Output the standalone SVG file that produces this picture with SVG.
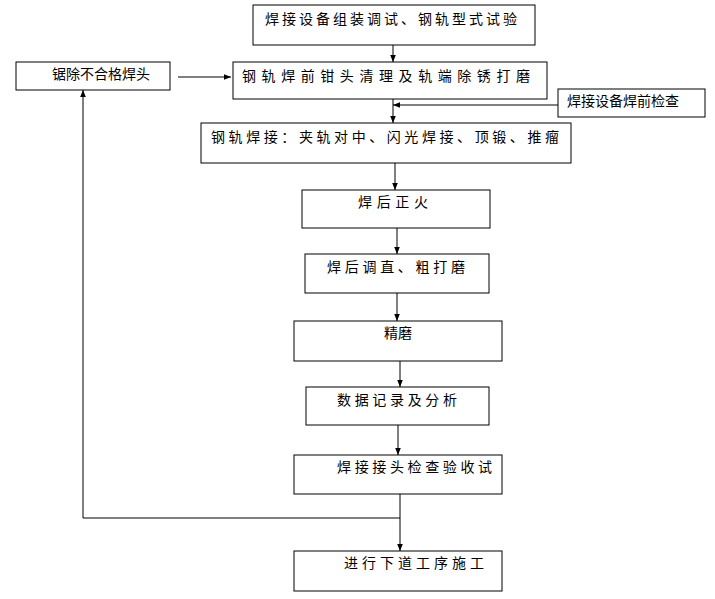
<svg xmlns="http://www.w3.org/2000/svg" width="715" height="599" viewBox="0 0 715 599">
<defs>
<style>
.b{fill:#fff;stroke:#000;stroke-width:1}
.t{font-family:"Noto Sans CJK SC","Liberation Sans",sans-serif;font-size:14px;fill:#000}
.c line,.c polyline{stroke:#000;stroke-width:1;fill:none}
</style>
<marker id="a" viewBox="0 0 10 10" refX="10" refY="5" markerWidth="7" markerHeight="7" orient="auto"><path d="M0,1 L10,5 L0,9 z" fill="#000"/></marker>
</defs>
<rect width="715" height="599" fill="#fff"/>
<g id="n1"><rect class="b" x="253" y="5" width="282" height="40"/><text class="t" x="265" y="24" textLength="252">焊接设备组装调试、钢轨型式试验</text></g>
<g id="n0"><rect class="b" x="16" y="62" width="154" height="28"/><text class="t" x="52" y="79">锯除不合格焊头</text></g>
<g id="n2"><rect class="b" x="233" y="62" width="314" height="37"/><text class="t" x="242" y="81" textLength="288">钢轨焊前钳头清理及轨端除锈打磨</text></g>
<g id="nr"><rect class="b" x="558" y="89" width="147" height="28"/><text class="t" x="567" y="106">焊接设备焊前检查</text></g>
<g id="n3"><rect class="b" x="201" y="123" width="370" height="40"/><text class="t" x="211" y="142" textLength="348">钢轨焊接：夹轨对中、闪光焊接、顶锻、推瘤</text></g>
<g id="n4"><rect class="b" x="302" y="190" width="188" height="38"/><text class="t" x="358" y="207" textLength="70">焊后正火</text></g>
<g id="n5"><rect class="b" x="305" y="254" width="184" height="39"/><text class="t" x="327" y="272" textLength="138">焊后调直、粗打磨</text></g>
<g id="n6"><rect class="b" x="294" y="321" width="208" height="40"/><text class="t" x="384" y="338">精磨</text></g>
<g id="n7"><rect class="b" x="306" y="387" width="183" height="38"/><text class="t" x="337" y="405" textLength="120">数据记录及分析</text></g>
<g id="n8"><rect class="b" x="294" y="455" width="208" height="39"/><text class="t" x="337" y="472" textLength="155">焊接接头检查验收试</text></g>
<g id="n9"><rect class="b" x="294" y="551" width="208" height="40"/><text class="t" x="344" y="568" textLength="140">进行下道工序施工</text></g>
<g class="c">
<line x1="393" y1="45" x2="393" y2="62" marker-end="url(#a)"/>
<line x1="393" y1="99" x2="393" y2="123" marker-end="url(#a)"/>
<line x1="558" y1="105" x2="393" y2="105" marker-end="url(#a)"/>
<line x1="178" y1="77" x2="231" y2="77" marker-end="url(#a)"/>
<line x1="395" y1="163" x2="395" y2="190" marker-end="url(#a)"/>
<line x1="397" y1="228" x2="397" y2="254" marker-end="url(#a)"/>
<line x1="397" y1="293" x2="397" y2="321" marker-end="url(#a)"/>
<line x1="400" y1="361" x2="400" y2="387" marker-end="url(#a)"/>
<line x1="398" y1="425" x2="398" y2="455" marker-end="url(#a)"/>
<line x1="400" y1="494" x2="400" y2="551" marker-end="url(#a)"/>
<polyline points="400,518 83,518 83,90" marker-end="url(#a)"/>
</g>
</svg>
